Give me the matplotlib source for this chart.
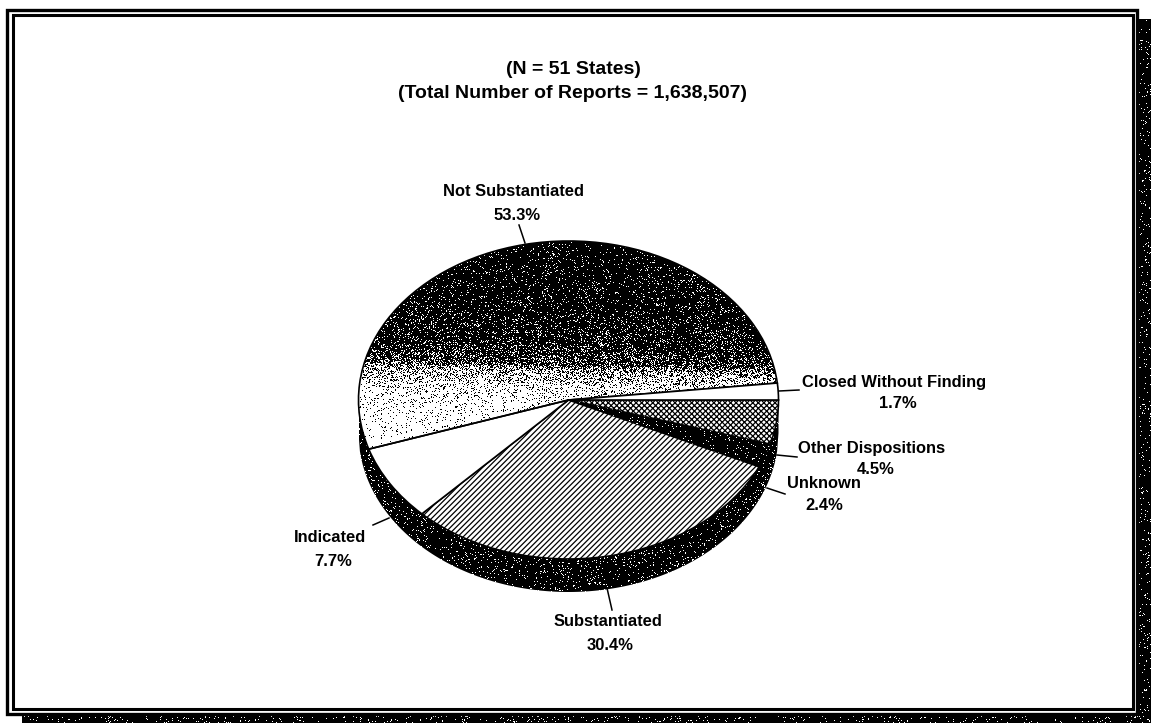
import numpy as np
import matplotlib
matplotlib.use("Agg")
import matplotlib.pyplot as plt
from matplotlib.patches import Polygon, Rectangle

# slices run clockwise from 3 o'clock
categories = ["Other Dispositions", "Unknown", "Substantiated", "Indicated",
              "Not Substantiated", "Closed Without Finding"]
shares = [4.5, 2.4, 30.4, 7.7, 53.3, 1.7]
face_colors = ["white", "black", "white", "white", "none", "white"]
hatches = ["x" * 6, None, "/" * 6, None, None, None]
title_lines = ["(N = 51 States)", "(Total Number of Reports = 1,638,507)"]

W, H = 1151, 723
plt.rcParams["font.family"] = ["Liberation Sans", "DejaVu Sans"]
plt.rcParams["hatch.linewidth"] = 0.9


def grain(width, height):
    # scanned-print speckle, deterministic
    yy, xx = np.indices((height, width))
    v = np.sin(xx * 12.9898 + yy * 78.233) * 43758.5453
    return v - np.floor(v)


def speckle(ax, width, height, white_frac, extent, zorder):
    img = (grain(width, height) < white_frac).astype(float)
    return ax.imshow(img, cmap="gray", vmin=0, vmax=1, extent=extent, aspect="auto",
                     interpolation="nearest", zorder=zorder)


fig = plt.figure(figsize=(W / 100, H / 100), dpi=100, facecolor="white")

# page frame and the dark scanner margin
bg = fig.add_axes([0, 0, 1, 1])
bg.axis("off")
speckle(bg, W, H, 0.05, (0, W, H, 0), 0)
bg.set_xlim(0, W)
bg.set_ylim(H, 0)
bg.add_patch(Rectangle((1139, 0), 12, 19, fc="white", ec="none", zorder=1))
bg.add_patch(Rectangle((0, 0), 22, H, fc="white", ec="none", zorder=1))
bg.add_patch(Rectangle((0, 0), 1139, 714, fc="white", ec="none", zorder=1))
bg.add_patch(Rectangle((7.5, 9.5), 1130, 704, fc="none", ec="black", lw=2.4, zorder=2))
bg.add_patch(Rectangle((13.5, 15), 1119.5, 694, fc="none", ec="black", lw=2.2, zorder=2))

for text, y in zip(title_lines, [69, 93]):
    bg.text(573, y, text, ha="center", va="center", fontsize=14, fontweight="bold", zorder=5)

# name x, name y, percent x, percent y
label_spots = [
    (514, 192, 517, 215), (894, 382, 898, 404), (872, 448, 876, 470),
    (824, 484, 824, 506), (330, 537, 333, 561), (608, 622, 610, 645),
]
label_order = [4, 5, 0, 1, 3, 2]
for (x1, y1, x2, y2), i in zip(label_spots, label_order):
    bg.text(x1, y1, categories[i], ha="center", va="center", fontsize=11.9, fontweight="bold", zorder=5)
    bg.text(x2, y2, f"{shares[i]}%", ha="center", va="center", fontsize=11.9, fontweight="bold", zorder=5)

leaders = [
    ((519, 525), (225, 243)), ((779, 799), (391, 390)), ((777, 797), (455, 457)),
    ((767, 785), (488, 494)), ((373, 389), (525, 518)), ((607, 612), (588, 610)),
]
for xs, ys in leaders:
    bg.plot(xs, ys, color="black", lw=1.1, zorder=3)

# pie face is 420 x 318 px, rim 33 px deep
px_w, px_h = 420, 351
depth = 33 / 159
ax = fig.add_axes([358.5 / W, 1 - 592 / H, px_w / W, px_h / H])
ax.patch.set_alpha(0)
wedges, _ = ax.pie(shares, startangle=0, counterclock=False, colors=["white"] * len(shares),
                   wedgeprops={"edgecolor": "black", "linewidth": 1.2})
ax.set_aspect("auto")
extent = (-1, 1, -1 - depth, 1)

for wedge, fc, hatch in zip(wedges, face_colors, hatches):
    wedge.set_facecolor(fc)
    wedge.set_hatch(hatch)
    wedge.set_zorder(4)
    wedge.set_clip_on(False)

# rim
xs = np.linspace(-1, 1, 300)
rim_pts = np.column_stack([np.r_[xs, xs[::-1]],
                           np.r_[-depth - np.sqrt(1 - xs**2), np.zeros_like(xs)]])
rim = Polygon(rim_pts, closed=True, fc="none", ec="none")
ax.add_patch(rim)
rim_img = speckle(ax, px_w, px_h, 0.07, extent, 1)
rim_img.set_clip_path(rim)

# Not Substantiated: black fading to white down the slice
yy, xx = np.indices((px_h, px_w))
y_page = yy + 241 - xx / px_w * 10
fade = np.interp(y_page, [241, 300, 335, 350, 358, 366, 385, 410, 460],
                 [0.06, 0.08, 0.13, 0.22, 0.25, 0.62, 0.86, 0.93, 0.98])
fade_img = ax.imshow((grain(px_w, px_h) < fade).astype(float), cmap="gray", vmin=0, vmax=1,
                     extent=extent, aspect="auto", interpolation="nearest", zorder=2)
fade_img.set_clip_path(wedges[4])

# Unknown: nearly solid black
dark_img = speckle(ax, px_w, px_h, 0.04, extent, 5)
dark_img.set_clip_path(wedges[1])

ax.set_xlim(-1, 1)
ax.set_ylim(-1 - depth, 1)

fig.savefig("out.png", dpi=100)
